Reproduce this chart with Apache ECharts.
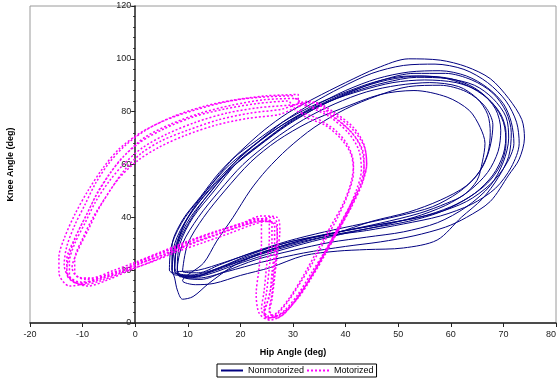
<!DOCTYPE html>
<html>
<head>
<meta charset="utf-8">
<script src="https://cdn.jsdelivr.net/npm/echarts@6/dist/echarts.min.js"></script>
<style>html,body{margin:0;padding:0;background:#fff}#c{width:558px;height:381px}</style>
</head>
<body>
<div id="c"></div>
<script>
// Hip angle (x, deg) vs knee angle (y, deg), one array per gait cycle
const xTicks = [-20, -10, 0, 10, 20, 30, 40, 50, 60, 70, 80];
const yTicks = [0, 20, 40, 60, 80, 100, 120];
const seriesNames = ['Nonmotorized', 'Motorized'];

const nonmotorizedCycle1 = [[7,20],[7,29],[9,39],[12.5,48],[16,57],[20,65],[24.5,73],[29,79.5],[34,85],[40,91],[46,96.5],[52,100],[58,99.5],[63,97],[67.5,92.5],[71,85],[73.5,77],[74,70],[73,62],[71,56],[67.5,46],[63,40],[59,36.3],[53,33],[46.6,30.7],[40,29],[32,26.5],[24,23],[17.5,19.5],[12,17],[9,17.5]];
const nonmotorizedCycle2 = [[7.5,21],[8,30],[10,40],[13.5,50],[18,60],[23,68],[28,76],[33.5,83],[39,89],[45,94.5],[51,97.5],[57,98],[62.5,96],[67,91],[70.5,84],[72.5,76],[73,68],[71.5,59],[68.5,51],[64,45],[58,40.5],[51,37.5],[44,35],[37,33],[30,29.5],[23,25.5],[17,21.5],[12,18.5],[9,18]];
const nonmotorizedCycle3 = [[6.5,20],[7,30],[9.5,40],[13.5,50],[18.5,62],[23,69],[28,76],[33.5,82],[39.5,87],[46,91.5],[52,93.5],[58,93],[63,90],[67,85],[69.5,79],[70.5,72],[70,64],[68,56],[64.5,49],[60,44],[54,40],[47,37.5],[40,35],[33,32],[26,28],[20,24],[15,20],[11,17.5],[8.5,17.5]];
const nonmotorizedCycle4 = [[8,21],[8.5,30],[11,40],[15,50],[19.5,61],[24.5,69],[30,77],[36,83.5],[42,88.5],[48,92],[54,93.5],[60,92.5],[64.5,89],[68,83],[70,76],[70.5,68],[69.5,60],[67,53],[63,47],[58,42],[52,38.5],[45,36],[38,33.5],[31,30.5],[25,27],[19,22],[14,15],[11,10],[9,9],[8,12.5],[7.5,17]];
const nonmotorizedCycle5 = [[7.5,20],[8,30],[10.5,40],[14.5,50],[19.5,62],[25,71],[31,78.5],[37,84],[43,88],[49,91],[55,92],[61,91],[65.5,87.5],[68.5,81],[69.5,73],[69,65],[67,57],[63.5,50],[59,44.5],[53,40],[46,36.5],[39,33.5],[32,30],[25,26],[19,22],[14,18.5],[10,17]];
const nonmotorizedCycle6 = [[9,19.5],[10,30],[13,40],[17,50],[22,61],[27,69],[33,76],[39,81],[46.6,86.5],[53,88],[59.3,85.5],[63.5,80.5],[65.6,74],[66.5,68],[66,61],[65,54],[62.5,48.5],[59.3,45.4],[54,41.5],[46.6,37.8],[40,35],[33,32],[26,28],[19.5,23],[14,19],[11,17.5]];
const nonmotorizedCycle7 = [[7.5,19.5],[8,29],[10.5,39],[14,49],[18.5,59],[23.5,67],[29,75],[35,82],[41,87.5],[47,92],[53,94.5],[59,94.5],[64,92],[68,87],[70.5,80],[71.5,72],[71,63],[69,55],[66,47],[62,40],[57.4,31.4],[51,28.4],[44,27.8],[38.4,27.2],[32,25.5],[25.7,21],[20,18],[15,15],[11.5,14.5],[9,16]];
const nonmotorizedCycle8 = [[13,22.7],[15.5,31],[18.6,40],[21.9,50.3],[25,58],[29,66],[34,74],[40,81],[46,86],[52,89.5],[58,90],[63,87.5],[66.5,82],[68,75],[67.5,67],[66,59],[63,52],[58,46.5],[52,42],[45,38.5],[38,34],[30,31],[23,27],[17,23],[12,20],[8,19.5]];
const nonmotorizedCycle9 = [[7,19],[7.5,28],[9.5,38],[13,48],[17.5,58],[22.5,67],[28,75],[34,82],[40,88],[46,92.5],[52,95],[58,95.5],[63,93.5],[67,89],[70,83],[71.5,76],[72,68],[70.5,60],[67.5,52.5],[63,46],[57,41.5],[50,38.5],[43,36],[36,33.5],[29,30.5],[22,26],[16,21],[11.5,18],[8.5,18.5]];
const nonmotorizedCycle10 = [[8,20],[9,30],[12,40],[16,50],[20.5,60],[26,69],[32,77],[38,83],[44,87.5],[50,90],[56,91],[61.5,89.5],[65,85],[67,79],[67.5,72],[67,64],[65,56],[61.5,49.5],[56.5,44],[50,40.5],[43,37.5],[36,34.5],[29,31],[22,26.5],[16,22],[12,19]];
const nonmotorizedCycle11 = [[7,20.5],[7.5,30],[10,40],[14,50],[19,60],[24,68],[29.5,76],[35.5,82.5],[41.5,87.5],[47.5,91],[53.5,93],[59.5,92.5],[64.5,90],[68,85],[70.5,78],[71,70],[70,61],[67.5,52],[63,44],[57.5,38],[51,34.5],[44,32.5],[37,30.5],[30,27.5],[23,24],[17,19.5],[12.5,16.5],[9.5,17]];

const motorizedCycle1 = [[30,86],[24,85.5],[18,84],[12,81],[6,77],[1,72],[-3,66],[-6,59],[-9,50],[-11.5,41],[-13.5,32],[-14.5,25],[-14.5,19],[-12.5,14],[-9.5,15],[-5,18.5],[0,22],[5,25.5],[10,29.5],[15,33],[20,36.5],[24,38.5],[26.5,38],[27,33],[26.5,24],[26,15],[25,7],[24.5,3],[26,2],[28.5,5],[31,11],[33.5,19],[36,27],[38.5,36],[41,45],[43,53],[44,60],[43.5,67],[41,74],[37,80],[33,84]];
const motorizedCycle2 = [[28,81],[22,79.5],[16,77],[10,73],[5,69],[1,64],[-2,58],[-4.5,51],[-7,43],[-9,35],[-11,27],[-12,21],[-11,17.5],[-8.5,17],[-4,20],[0,23],[5,27],[10,31],[15,34.5],[20,37.5],[23.5,39.5],[25.5,39],[25.5,32],[25,22],[24.5,12],[24,5],[25,2.5],[27,4],[29.5,10],[32,18],[34.5,27],[37,36],[39.5,45],[41,53],[41.5,60],[40.5,67],[38,73],[34,78],[30.5,80.5]];
const motorizedCycle3 = [[29,84],[23,83],[17,81],[11,78],[5.5,73.5],[1,68.5],[-2.5,62.5],[-5,56],[-7.5,48],[-9.5,40],[-11.5,32],[-13,24],[-13,18.5],[-11,15],[-7.5,16],[-3,19.5],[1,23.5],[6,27.5],[11,31.5],[16,35],[20.5,38],[24,40.5],[27,40],[27.5,35],[27,26],[26.5,17],[26,9],[25.5,4],[27,2],[29.5,6],[32,13],[34.5,21],[37,30],[39.5,39],[42,48],[43.5,56],[43.5,63],[42,70],[39,76],[35,81],[31,83.5]];
const motorizedCycle4 = [[31,86.5],[25,86],[19,84.5],[13,82],[7,78],[2,73],[-2,67],[-5,60.5],[-7.5,53],[-9.5,45],[-11.5,37],[-13,29],[-13.5,22],[-12.5,17],[-10,14.5],[-6.5,16],[-2,19.5],[3,23],[8,27],[13,30.5],[18,34],[22,37],[25,38.5],[26.5,37],[26.5,29],[26,19],[25.5,10],[24.5,4],[25.5,1],[28,3],[30.5,8.5],[33,16],[35.5,24.5],[38,33],[40.5,42],[42.5,51],[43.5,59],[43,66],[41,72.5],[37.5,78.5],[33.5,83.5]];
const motorizedCycle5 = [[27.5,79],[21.5,77.5],[15.5,75],[9.5,71],[4.5,66.5],[0.5,61.5],[-3,55],[-5.5,48],[-8,40],[-10,32],[-11.5,24],[-11.5,19],[-9.5,16.5],[-6,17.5],[-2,20.5],[2,24],[7,28],[12,32],[17,35.5],[21,38],[23,39.5],[24,38],[24,30],[23.5,20],[23,11],[23.5,4],[25,1.5],[27,3.5],[29,8],[31,14],[33.5,22],[36,31],[38.5,40],[40.5,49],[41.5,57],[41,64],[39,70],[36,75],[32,78.5]];
const motorizedCycle6 = [[30.5,85],[24.5,84.5],[18.5,82.5],[12.5,79.5],[7,75.5],[2,70.5],[-1.5,64.5],[-4.5,57.5],[-7,50],[-9,42],[-11,34],[-12.5,26],[-13,20],[-12,16],[-9,14],[-5,16.5],[-1,20],[4,24],[9,28.5],[14,32.5],[19,36],[23,39],[26,40],[27,37.5],[27,29],[26.5,20],[26,11],[25.5,5],[26.5,2.5],[28.5,4.5],[31,9.5],[33.5,17],[36,25.5],[38.5,34.5],[41,43.5],[43,52],[44,60],[43.5,67.5],[41.5,74],[38,79.5],[34,83.5]];
const motorizedCycle7 = [[29.5,82.5],[23.5,81.5],[17.5,79.5],[11.5,76],[6,71.5],[1.5,66.5],[-2,60.5],[-5,53.5],[-7.5,46],[-9.5,38],[-11.5,30],[-12.5,23],[-12.5,18],[-10.5,15.5],[-7,16.5],[-3,19],[1,22.5],[6,26.5],[11,30.5],[16,34],[20.5,37],[24.5,39],[26,38.5],[26,31],[25.5,21],[25,12],[24.5,5],[25.5,2],[27.5,3],[30,7.5],[32.5,14.5],[35,23],[37.5,32],[40,41],[42,50],[43,58],[42.5,65.5],[40.5,72],[37,78],[33,82],[30,85.5]];

const nonmotorized = [].concat(nonmotorizedCycle1, nonmotorizedCycle2, nonmotorizedCycle9, nonmotorizedCycle3,
  nonmotorizedCycle4, nonmotorizedCycle11, nonmotorizedCycle5, nonmotorizedCycle10, nonmotorizedCycle6,
  nonmotorizedCycle7, nonmotorizedCycle8);
const motorized = [].concat(motorizedCycle1, motorizedCycle2, motorizedCycle3, motorizedCycle4,
  motorizedCycle5, motorizedCycle6, motorizedCycle7);

const chart = echarts.init(document.getElementById('c'), null, {renderer: 'canvas'});
const font = '"Liberation Sans", Arial, sans-serif';
chart.setOption({
  animation: false,
  textStyle: {fontFamily: font},
  grid: {left: 30, right: 2, top: 6, bottom: 58, show: true, borderColor: '#9a9a9a', borderWidth: 1,
         containLabel: false, outerBoundsMode: 'none'},
  xAxis: {
    type: 'value', min: xTicks[0], max: xTicks[xTicks.length - 1], interval: 10,
    name: 'Hip Angle (deg)', nameLocation: 'middle', nameGap: 25,
    nameTextStyle: {fontSize: 9, fontWeight: 'bold', color: '#000', fontFamily: font},
    axisLine: {onZero: false, lineStyle: {color: '#222', width: 1.5}},
    axisTick: {show: true, inside: false, length: 4, lineStyle: {color: '#222'}},
    axisLabel: {fontSize: 9, color: '#222', margin: 7, fontFamily: font, showMaxLabel: true, alignMaxLabel: 'right'},
    splitLine: {show: false}
  },
  yAxis: {
    type: 'value', min: yTicks[0], max: yTicks[yTicks.length - 1], interval: 20,
    position: 'left', offset: -105.2,
    name: 'Knee Angle (deg)', nameLocation: 'middle', nameGap: 120,
    nameTextStyle: {fontSize: 9, fontWeight: 'bold', color: '#000', fontFamily: font},
    axisLine: {show: true, onZero: false, lineStyle: {color: '#222', width: 1.5}},
    axisTick: {show: true, inside: false, length: 4, lineStyle: {color: '#222'}},
    minorTick: {show: true, splitNumber: 5, length: 2, lineStyle: {color: '#222'}},
    axisLabel: {fontSize: 9, color: '#222', margin: 4, fontFamily: font},
    splitLine: {show: false}
  },
  legend: {
    bottom: 4, left: 217,
    data: seriesNames,
    itemWidth: 22, itemHeight: 8, itemGap: 2,
    itemStyle: {opacity: 0},
    borderColor: '#000', borderWidth: 1, padding: [2, 3],
    textStyle: {fontSize: 9, color: '#000', fontFamily: font}
  },
  series: [
    {name: seriesNames[0], type: 'line', data: nonmotorized, symbol: 'none', smooth: 0.3,
     lineStyle: {color: '#000080', width: 1}, itemStyle: {color: '#000080'}},
    {name: seriesNames[1], type: 'line', data: motorized, symbol: 'none', smooth: 0.3,
     lineStyle: {color: '#ff00ff', width: 1.5, type: [2, 2]}, itemStyle: {color: '#ff00ff'}}
  ]
});
</script>
</body>
</html>
